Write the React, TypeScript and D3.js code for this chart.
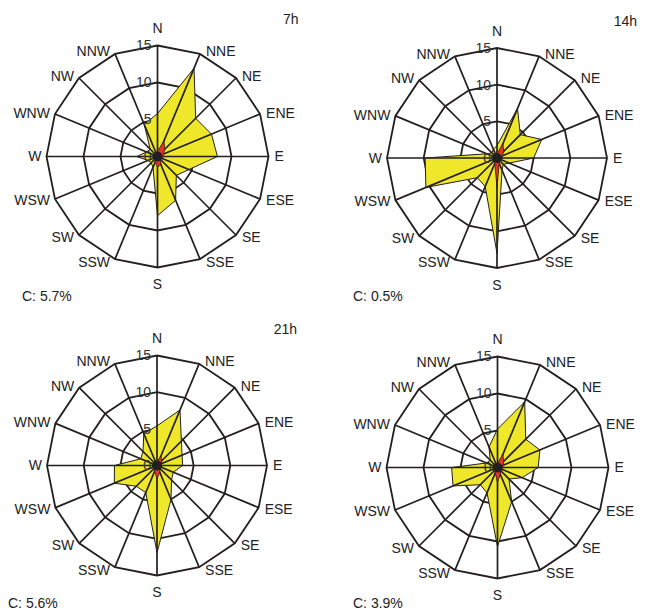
import * as d3 from "d3";

const DIRECTIONS = ["N", "NNE", "NE", "ENE", "E", "ESE", "SE", "SSE", "S", "SSW", "SW", "WSW", "W", "WNW", "NW", "NNW"];
const RING_TICKS = [5, 10, 15];
const TICK_LABELS = [0, 5, 10, 15];

// frequency (%) per direction, all winds
const FREQ_7H = [5.8, 12.9, 7.3, 7.9, 8.1, 4.6, 3.6, 6.4, 8.0, 1.6, 1.2, 1.4, 2.8, 1.6, 1.4, 4.7];
const FREQ_14H = [1.7, 7.3, 4.5, 6.6, 5.0, 1.8, 1.2, 1.8, 13.0, 4.2, 3.8, 10.5, 9.8, 1.5, 1.0, 1.3];
const FREQ_21H = [5.4, 8.2, 4.7, 3.7, 3.5, 2.4, 2.8, 5.0, 11.9, 4.0, 4.0, 6.3, 5.8, 2.4, 2.7, 4.7];
const FREQ_ALL = [5.2, 9.6, 5.4, 6.2, 5.5, 3.6, 2.2, 5.0, 10.7, 3.7, 3.3, 6.5, 6.2, 1.6, 1.4, 3.0];

// frequency (%) per direction, strong winds
const STRONG_7H = [0.7, 2.3, 1.4, 0.9, 0.7, 0.6, 0.6, 1.2, 1.4, 0.8, 0.5, 0.5, 0.6, 0.4, 0.4, 0.5];
const STRONG_14H = [0.6, 2.1, 1.3, 0.8, 0.7, 0.5, 0.5, 0.8, 4.0, 0.8, 0.5, 0.6, 0.7, 0.4, 0.4, 0.5];
const STRONG_21H = [0.5, 1.4, 0.9, 0.6, 0.6, 0.5, 0.6, 1.0, 1.8, 0.9, 0.5, 0.5, 0.6, 0.4, 0.4, 0.5];
const STRONG_ALL = [0.6, 1.9, 1.2, 0.8, 0.7, 0.6, 0.6, 1.0, 2.0, 0.8, 0.5, 0.5, 0.6, 0.4, 0.4, 0.5];

const TITLES = ["7h", "14h", "21h", ""];
const CALMS = ["C: 5.7%", "C: 0.5%", "C: 5.6%", "C: 3.9%"];

const FREQS = [FREQ_7H, FREQ_14H, FREQ_21H, FREQ_ALL];
const STRONGS = [STRONG_7H, STRONG_14H, STRONG_21H, STRONG_ALL];

// layout of the four panels
const LAYOUT = [
  { cx: 157.5, cy: 156.5, R: 111, calmX: 22, calmY: 301 },
  { cx: 497, cy: 158, R: 110, calmX: 353, calmY: 301 },
  { cx: 157, cy: 465.5, R: 110, calmX: 8, calmY: 608 },
  { cx: 497.5, cy: 467.5, R: 111, calmX: 353, calmY: 608 },
];

const INK = "#231f20";
const YELLOW = "#eee72a";
const RED = "#e2332b";
const FONT = "Liberation Sans, Arial, sans-serif";

const step = (2 * Math.PI) / DIRECTIONS.length;

function Rose({ idx }: { idx: number }) {
  const { cx, cy, R, calmX, calmY } = LAYOUT[idx];
  const r = d3.scaleLinear().domain([0, 15]).range([0, R]);
  const angle = (i: number) => i * step;

  const radial = d3
    .lineRadial<number>()
    .angle((_, i) => angle(i))
    .radius((d) => r(d))
    .curve(d3.curveLinearClosed);

  const ring = (v: number) => radial(DIRECTIONS.map(() => v)) || "";

  const pt = (i: number, v: number) => [r(v) * Math.sin(angle(i)), -r(v) * Math.cos(angle(i))];

  return (
    <g transform={`translate(${cx},${cy})`}>
      {RING_TICKS.map((t) => (
        <path key={t} d={ring(t)} fill="none" stroke={INK} strokeWidth={1.8} />
      ))}
      <path d={radial(FREQS[idx]) || ""} fill={YELLOW} stroke={INK} strokeWidth={1} strokeLinejoin="round" />
      {DIRECTIONS.map((d, i) => {
        const [x, y] = pt(i, 15);
        return <line key={d} x1={0} y1={0} x2={x} y2={y} stroke={INK} strokeWidth={1.7} />;
      })}
      {TICK_LABELS.map((t) => (
        <text
          key={t}
          x={-6}
          y={-r(t)}
          dy="0.35em"
          textAnchor="end"
          fontSize={14}
          fill="#333"
          fontFamily={FONT}
        >
          {t}
        </text>
      ))}
      <path d={radial(STRONGS[idx]) || ""} fill={RED} stroke={INK} strokeWidth={0.8} />
      <circle r={5} fill={INK} />
      {DIRECTIONS.map((d, i) => {
        const [x, y] = pt(i, 15);
        const s = Math.sin(angle(i));
        const c = Math.cos(angle(i));
        let anchor = "middle";
        let lx = x;
        let ly = y;
        if (s > 0.1) {
          anchor = "start";
          lx = x + 6;
          ly = y - c * 3;
        } else if (s < -0.1) {
          anchor = "end";
          lx = x - 5;
          ly = y - c * 3;
        } else {
          ly = y - c * 17;
        }
        return (
          <text
            key={d}
            x={lx}
            y={ly}
            dy="0.35em"
            textAnchor={anchor}
            fontSize={14}
            fill="#222"
            fontFamily={FONT}
          >
            {d}
          </text>
        );
      })}
      {TITLES[idx] && (
        <text x={R + 30} y={-R - 22} textAnchor="end" fontSize={14} fill="#222" fontFamily={FONT}>
          {TITLES[idx]}
        </text>
      )}
      <text x={calmX - cx} y={calmY - cy} fontSize={14} fill="#222" fontFamily={FONT}>
        {CALMS[idx]}
      </text>
    </g>
  );
}

export default function App() {
  return (
    <svg
      width={660}
      height={612}
      style={{ position: "absolute", left: 0, top: 0, background: "#fff" }}
    >
      {LAYOUT.map((_, i) => (
        <Rose key={i} idx={i} />
      ))}
    </svg>
  );
}
